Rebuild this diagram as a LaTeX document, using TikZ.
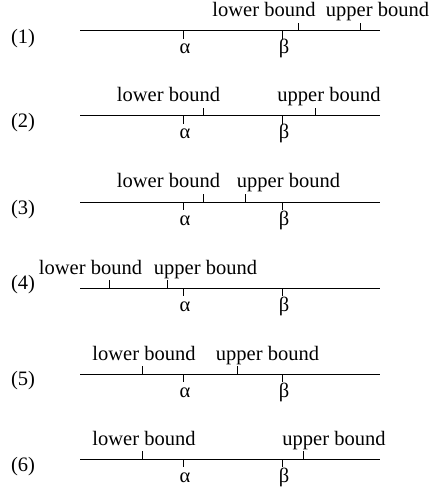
\documentclass[tikz,border=0pt]{standalone}
\usepackage{fontspec}
\setmainfont{Liberation Serif}

\begin{document}
\begin{tikzpicture}[
    x=1bp,
    y=-1bp,
    line cap=butt,
    axisline/.style={line width=1bp},
    marker/.style={line width=1bp},
    boundlabel/.style={anchor=base,inner sep=0pt,font=\fontsize{20.5bp}{24bp}\selectfont},
    greeklabel/.style={anchor=base,inner sep=0pt,font=\fontsize{20.5bp}{24bp}\selectfont},
    rowlabel/.style={anchor=center,inner sep=0pt,font=\fontsize{20.5bp}{24bp}\selectfont}
]

% Page frame
\useasboundingbox (0,0) rectangle (432,488);

% Case (1): both bounds above beta
\draw[axisline] (80,31) -- (380,31);
\draw[marker] (183,31) -- (183,39);
\draw[marker] (282,31) -- (282,39);
\draw[marker] (298,31) -- (298,23);
\draw[marker] (360,31) -- (360,23);
\node[rowlabel]   (r1) at (23,38.5) {(1)};
\node[greeklabel] (a1) at (185,54)  {α};
\node[greeklabel] (b1) at (284,54)  {β};
\node[boundlabel] (l1) at (264,17)  {lower bound};
\node[boundlabel] (u1) at (377.5,17) {upper bound};

% Case (2): alpha < lower, beta < upper
\draw[axisline] (80,116) -- (380,116);
\draw[marker] (183,116) -- (183,124);
\draw[marker] (282,116) -- (282,124);
\draw[marker] (203,116) -- (203,108);
\draw[marker] (315,116) -- (315,108);
\node[rowlabel]   (r2) at (23,123)   {(2)};
\node[greeklabel] (a2) at (185,139)  {α};
\node[greeklabel] (b2) at (284,139)  {β};
\node[boundlabel] (l2) at (168.5,102) {lower bound};
\node[boundlabel] (u2) at (329,102)  {upper bound};

% Case (3): both bounds between alpha and beta
\draw[axisline] (80,202) -- (380,202);
\draw[marker] (183,202) -- (183,210);
\draw[marker] (282,202) -- (282,210);
\draw[marker] (203,202) -- (203,194);
\draw[marker] (245,202) -- (245,194);
\node[rowlabel]   (r3) at (23,210)   {(3)};
\node[greeklabel] (a3) at (185,225)  {α};
\node[greeklabel] (b3) at (284,225)  {β};
\node[boundlabel] (l3) at (168.5,188) {lower bound};
\node[boundlabel] (u3) at (288.5,188) {upper bound};

% Case (4): both bounds below alpha
\draw[axisline] (80,288) -- (380,288);
\draw[marker] (183,288) -- (183,296);
\draw[marker] (282,288) -- (282,296);
\draw[marker] (109,288) -- (109,280);
\draw[marker] (167,288) -- (167,280);
\node[rowlabel]   (r4) at (23,285)   {(4)};
\node[greeklabel] (a4) at (185,311)  {α};
\node[greeklabel] (b4) at (284,311)  {β};
\node[boundlabel] (l4) at (90.5,274) {lower bound};
\node[boundlabel] (u4) at (205.5,274) {upper bound};

% Case (5): lower < alpha < upper < beta
\draw[axisline] (80,374) -- (380,374);
\draw[marker] (183,374) -- (183,382);
\draw[marker] (282,374) -- (282,382);
\draw[marker] (142,374) -- (142,366);
\draw[marker] (237,374) -- (237,366);
\node[rowlabel]   (r5) at (23,381)   {(5)};
\node[greeklabel] (a5) at (185,397)  {α};
\node[greeklabel] (b5) at (284,397)  {β};
\node[boundlabel] (l5) at (144,360)  {lower bound};
\node[boundlabel] (u5) at (267.5,360) {upper bound};

% Case (6): bounds enclose alpha and beta
\draw[axisline] (80,459) -- (380,459);
\draw[marker] (183,459) -- (183,467);
\draw[marker] (282,459) -- (282,467);
\draw[marker] (142,459) -- (142,451);
\draw[marker] (303,459) -- (303,451);
\node[rowlabel]   (r6) at (23,467)   {(6)};
\node[greeklabel] (a6) at (185,482)  {α};
\node[greeklabel] (b6) at (284,482)  {β};
\node[boundlabel] (l6) at (144,445)  {lower bound};
\node[boundlabel] (u6) at (334,445)  {upper bound};

\end{tikzpicture}
\end{document}
